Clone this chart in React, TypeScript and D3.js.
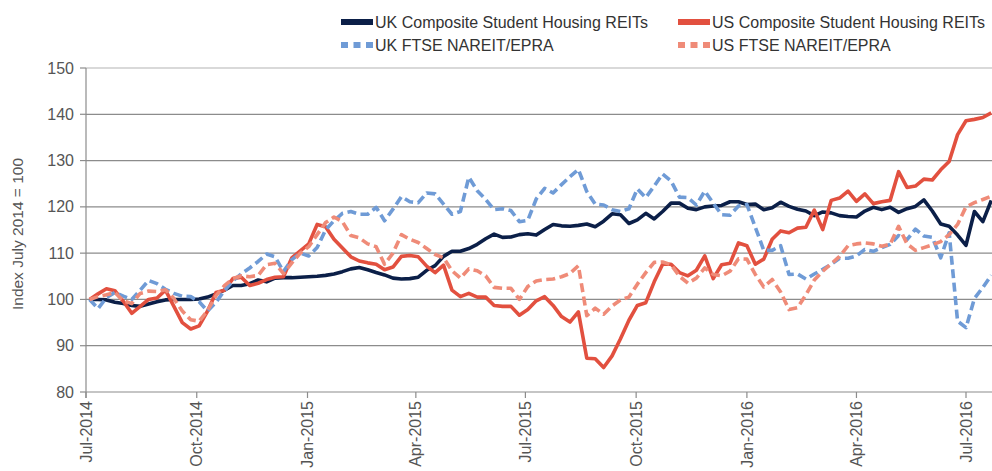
import React, { useEffect } from "react";
import * as d3 from "d3";

// ---- DATA ----
const startDate = new Date(2014, 6, 4);
const weeks = 108;
const dates: Date[] = d3.range(weeks).map((i) => d3.timeDay.offset(startDate, i * 7));

const ukComposite = [
  100, 100, 99.9, 99.4, 99.1, 98.7, 98.5, 99, 99.5, 99.9,
  100, 100, 100, 100.1, 100.5, 101.2, 102, 103, 103, 103.4,
  104.2, 103.8, 104.6, 104.7, 104.7, 104.8, 104.9, 105, 105.2, 105.5,
  106, 106.6, 106.9, 106.4, 105.8, 105.3, 104.6, 104.4, 104.5, 104.8,
  106.3, 107.3, 109.3, 110.4, 110.4, 111, 111.9, 113.1, 114.1, 113.4,
  113.5, 114, 114.2, 113.9, 115.1, 116.2, 115.9, 115.8, 116, 116.3,
  115.7, 116.9, 118.5, 118.3, 116.4, 117.2, 118.6, 117.4, 119, 120.8,
  120.8, 119.7, 119.4, 120, 120.2, 120.3, 121.1, 121.1, 120.5, 120.6,
  119.4, 119.8, 121, 120.1, 119.5, 119.1, 118.1, 118.9, 118.7, 118.1,
  117.9, 117.8, 119.1, 119.9, 119.4, 119.9, 118.8, 119.6, 120.1, 121.5,
  119.1, 116.3, 115.8, 113.9, 111.7, 119, 116.8, 121.4,
];

const usComposite = [
  100, 101.2, 102.3, 101.9, 99.6, 97, 98.5, 100, 100.3, 102,
  98.5, 95, 93.6, 94.3, 97.5, 101.5, 102, 104.5, 104.8, 103,
  103.5, 104.3, 104.8, 104.9, 109, 110.5, 112, 116.2, 115.7, 113,
  111.1, 109.2, 108.3, 107.9, 107.6, 106.4, 107, 109.3, 109.5, 109.2,
  107.2, 105.8, 107.4, 102, 100.6, 101.3, 100.5, 100.5, 98.7, 98.5,
  98.5, 96.6, 97.8, 99.7, 100.6, 98.7, 96.3, 95.1, 97.3, 87.3,
  87.2, 85.3, 87.8, 91.5, 95.5, 98.7, 99.3, 103.8, 107.6, 107.6,
  105.8, 105.1, 106.3, 109.4, 104.5, 107.5, 107.8, 112.2, 111.6, 107.6,
  108.7, 113, 114.8, 114.4, 115.4, 115.6, 119.3, 115.1, 121.4, 121.9,
  123.4, 121.2, 122.8, 120.7, 121.1, 121.4, 127.6, 124.2, 124.5, 126,
  125.8, 128, 129.8, 135.6, 138.6, 138.9, 139.3, 140.3,
];

const ukFtse = [
  100, 98, 100.4, 101.5, 100.7, 100, 102, 104.1, 103.4, 102.2,
  101.3, 100.7, 100.6, 99.5, 97.5, 99.4, 101.9, 104, 105.5, 106.8,
  108.2, 109.8, 109.2, 106, 108.6, 110, 109.4, 111.2, 115, 117,
  118.6, 119, 118.4, 118.4, 119.9, 117, 119.5, 122.2, 121.1, 120.9,
  123, 122.8, 120.6, 118.4, 119, 126.4, 123.5, 121.6, 119.4, 119.6,
  119.2, 116.8, 117.1, 121.7, 124, 123, 124.8, 126.5, 128.1, 123.3,
  120.6, 120.4, 119.4, 119, 119.6, 123.9, 122, 124.5, 127.1, 125.6,
  122.1, 122, 120.4, 123.4, 120.8, 118.3, 118.2, 120.2, 120.5, 115.6,
  110.6, 110.6, 111.6, 105.4, 105.5, 104.4, 105.5, 106.5, 107.6, 108.9,
  108.9, 109.4, 110.8, 110.4, 111.2, 111.9, 113.8, 112.9, 115.2, 113.7,
  113.4, 109, 114.4, 95.3, 93.9, 100.2, 102.6, 105.2,
];

const usFtse = [
  100, 100.6, 101, 101.5, 99.7, 99.1, 101.3, 101.8, 101.7, 102.1,
  100.2, 97.5, 95.6, 95.3, 97.6, 100.8, 103, 104.5, 105.1, 104.9,
  105.2, 107.5, 107.8, 105.6, 107.9, 110, 111.4, 114, 116.6, 117.8,
  116.8, 113.8, 113.3, 112, 111.4, 107.6, 110, 114, 113, 112.3,
  111, 109.7, 109, 106.2, 104.6, 106.6, 106.2, 105.1, 102.6, 102.4,
  102.4, 100, 102.8, 104, 104.3, 104.4, 104.9, 105.6, 107.3, 96.5,
  98.1, 96.8, 98.6, 99.9, 100.5, 103.3, 105.8, 108, 108.1, 107.5,
  105, 103.5, 104.6, 106.8, 105.4, 105.1, 106.1, 108.8, 108.7, 105.4,
  102.7, 104.3, 101.6, 97.8, 98.2, 101, 104.2, 106.1, 107.7, 109.3,
  111.6, 112, 112.2, 112, 111.5, 111.9, 115.8, 112, 110.6, 111.2,
  111.8, 112.5, 114, 116.2, 120, 120.9, 121.6, 122.3,
];

const yTicks = [80, 90, 100, 110, 120, 130, 140, 150];
const xTickDates = d3.range(9).map((i) => d3.timeMonth.offset(new Date(2014, 6, 1), i * 3));

const seriesNames = [
  "UK Composite Student Housing REITs",
  "US Composite Student Housing REITs",
  "UK FTSE NAREIT/EPRA",
  "US FTSE NAREIT/EPRA",
];

// ---- STYLE ----
const FONT = "'Liberation Sans', Arial, sans-serif";
const seriesStyle = [
  { color: "#0b1f48", dash: null as string | null },
  { color: "#e2503f", dash: null },
  { color: "#6f9bd6", dash: "9 4.5" },
  { color: "#ef8b78", dash: "9 4.5" },
];
const seriesData = [ukComposite, usComposite, ukFtse, usFtse];

export default function App() {
  useEffect(() => {
    document.body.style.margin = "0";
  }, []);

  const W = 992;
  const H = 471;
  const x = d3
    .scaleTime()
    .domain([new Date(2014, 6, 1), new Date(2016, 6, 1)])
    .range([86, 966]);
  const y = d3.scaleLinear().domain([80, 150]).range([392, 68]);
  const fmt = d3.timeFormat("%b-%Y");

  const line = d3
    .line<number>()
    .x((_, i) => x(dates[i]))
    .y((v) => y(v));

  const legendItems = [
    { name: seriesNames[0], s: seriesStyle[0], lx: 341, ly: 22 },
    { name: seriesNames[1], s: seriesStyle[1], lx: 678, ly: 22 },
    { name: seriesNames[2], s: seriesStyle[2], lx: 341, ly: 45 },
    { name: seriesNames[3], s: seriesStyle[3], lx: 678, ly: 45 },
  ];

  return (
    <svg width={W} height={H} style={{ display: "block", fontFamily: FONT }}>
      <rect width={W} height={H} fill="#fff" />
      {/* gridlines */}
      {yTicks.slice(1).map((t) => (
        <line key={t} x1={86} x2={W} y1={y(t)} y2={y(t)} stroke={t === 150 ? "#b4b4b4" : "#8c8c8c"} strokeWidth={1.2} />
      ))}
      {/* y axis */}
      <line x1={86} x2={86} y1={y(150)} y2={y(80) + 6} stroke="#8c8c8c" strokeWidth={1.2} />
      {yTicks.map((t) => (
        <g key={t}>
          <line x1={80} x2={86} y1={y(t)} y2={y(t)} stroke="#8c8c8c" strokeWidth={1.2} />
          <text x={74} y={y(t)} dy="0.35em" textAnchor="end" fontSize={16} fill="#555">
            {t}
          </text>
        </g>
      ))}
      {/* x axis */}
      <line x1={86} x2={W} y1={y(80)} y2={y(80)} stroke="#8c8c8c" strokeWidth={1.2} />
      {xTickDates.map((d, i) => (
        <g key={i} transform={`translate(${x(d)},${y(80)})`}>
          <line y1={0} y2={6} stroke="#8c8c8c" strokeWidth={1.2} />
          <text
            transform="rotate(-90)"
            x={-9}
            y={0}
            dy="0.35em"
            textAnchor="end"
            fontSize={16}
            fill="#555"
          >
            {fmt(d)}
          </text>
        </g>
      ))}
      {/* y title */}
      <text
        transform={`translate(23,${(y(80) + y(150)) / 2 + 4}) rotate(-90)`}
        textAnchor="middle"
        fontSize={15.5}
        fill="#555"
      >
        Index July 2014 = 100
      </text>
      {/* series */}
      {seriesData.map((vals, k) => (
        <path
          key={k}
          d={line(vals) || ""}
          fill="none"
          stroke={seriesStyle[k].color}
          strokeWidth={3.6}
          strokeDasharray={seriesStyle[k].dash || undefined}
          strokeLinejoin="round"
        />
      ))}
      {/* legend */}
      {legendItems.map((it, k) => (
        <g key={k}>
          <line
            x1={it.lx}
            x2={it.lx + 32}
            y1={it.ly}
            y2={it.ly}
            stroke={it.s.color}
            strokeWidth={6}
            strokeDasharray={it.s.dash ? "7 5.5" : undefined}
          />
          <text x={it.lx + 34} y={it.ly} dy="0.36em" fontSize={16} fill="#333">
            {it.name}
          </text>
        </g>
      ))}
    </svg>
  );
}
